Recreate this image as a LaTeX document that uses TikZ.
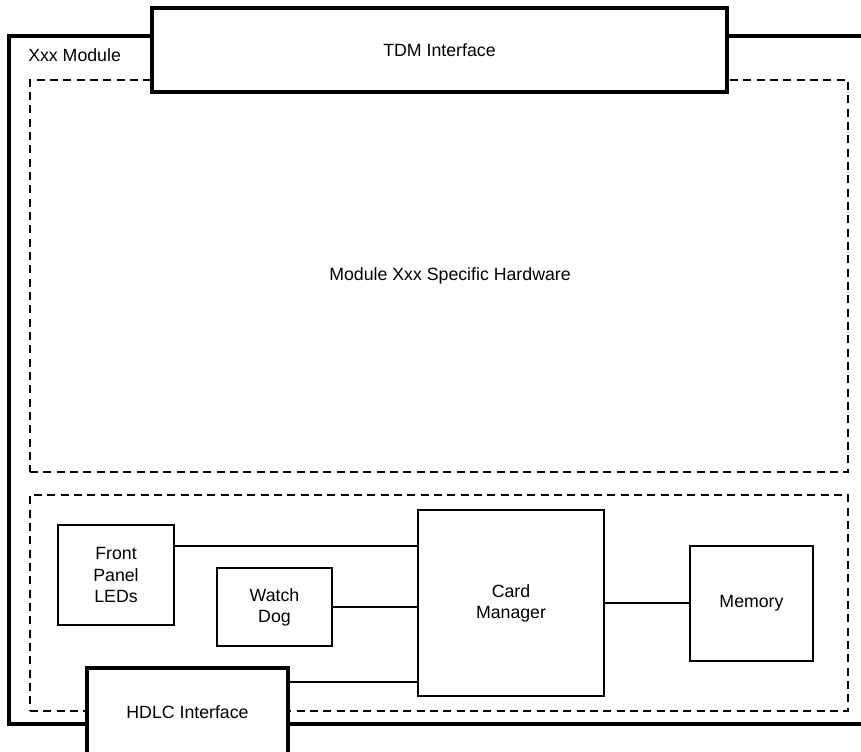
\documentclass[tikz,border=0pt]{standalone}
\usepackage{fontspec}
\setmainfont{Liberation Sans}
\usetikzlibrary{positioning,calc}

\begin{document}
\begin{tikzpicture}[
          x=0.75pt, y=-0.75pt,
          every node/.style={font=\fontsize{13.3}{15.8}\selectfont},
          frame/.style={line width=3pt},
          zone/.style={draw, dashed, line width=1.5pt, dash pattern=on 6pt off 4pt, inner sep=0pt},
          iface/.style={draw, line width=2.4pt, fill=white, inner sep=0pt, align=center},
          blk/.style={draw, line width=1.6pt, fill=white, inner sep=0pt, align=center},
          link/.style={line width=1.3pt},
          lbl/.style={inner sep=0pt, align=center}
      ]
        \clip (0,0) rectangle (861,752);

        % module outline, runs off the right edge
        \draw[frame] (875,36) -- (9,36) -- (9,724) -- (875,724);
        \node[lbl, anchor=west] (modname) at (28,55) {Xxx Module};

        \node[zone, minimum width=613.5pt, minimum height=294pt] (hw) at (439,276) {};
        \node[lbl] (hwname) at (450,276) {Module Xxx Specific Hardware};
        \node[zone, minimum width=613.5pt, minimum height=162pt] (mgmt) at (439,603) {};

        \node[iface, minimum width=431.25pt, minimum height=63pt] (tdm) at (439.5,50) {TDM Interface};
        \node[iface, minimum width=150.75pt, minimum height=66pt] (hdlc) at (187.5,712) {HDLC Interface};

        \node[blk, minimum width=87pt, minimum height=75pt] (leds) at (116,575) {Front\\Panel\\LEDs};
        \node[blk, minimum width=86.25pt, minimum height=58.5pt] (wdog) at (274.5,607) {Watch\\Dog};
        \node[blk, minimum width=139.5pt, minimum height=139.5pt] (cmgr) at (511,603) {Card\\Manager};
        \node[blk, minimum width=92.25pt, minimum height=86.25pt] (mem) at (751.5,603.5) {Memory};

        \draw[link] ($(leds.east)+(0,-29)$) coordinate (l1) -- (l1 -| cmgr.west);
        \draw[link] (wdog.east) -- (wdog.east -| cmgr.west);
        \draw[link] (cmgr.east) -- (cmgr.east -| mem.west);
        \draw[link] ($(hdlc.east)+(0,-30)$) coordinate (h1) -- (h1 -| cmgr.west);
      \end{tikzpicture}
\end{document}
